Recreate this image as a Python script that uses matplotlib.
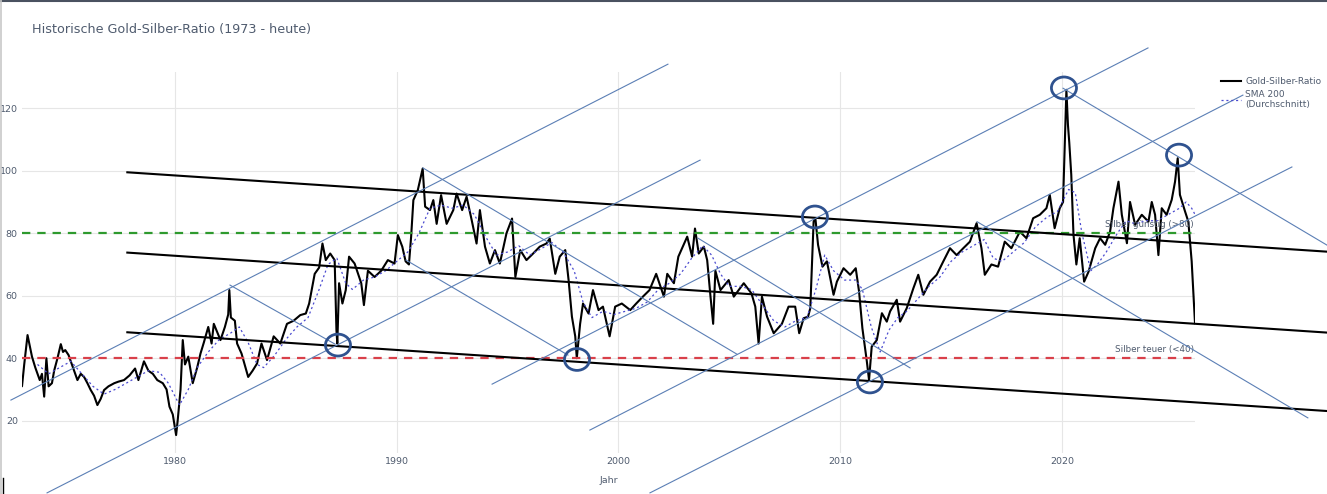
import matplotlib
matplotlib.use("Agg")
import matplotlib.pyplot as plt
from matplotlib.patches import Ellipse
from matplotlib.lines import Line2D

plt.rcParams['font.family'] = ['DejaVu Sans']
plt.rcParams['lines.scale_dashes'] = False

# Gold-Silber-Ratio
ratio_year = [
    1973.00, 1973.10, 1973.20, 1973.35, 1973.45, 1973.55, 1973.70, 1973.90, 1974.00, 1974.10,
    1974.20, 1974.30, 1974.45, 1974.55, 1974.70, 1974.85, 1974.95, 1975.05, 1975.20, 1975.35,
    1975.50, 1975.60, 1975.75, 1975.90, 1976.05, 1976.20, 1976.35, 1976.50, 1976.65, 1976.80,
    1977.00, 1977.26, 1977.45, 1977.70, 1977.95, 1978.20, 1978.35, 1978.60, 1978.80, 1979.00,
    1979.20, 1979.45, 1979.62, 1979.75, 1979.90, 1980.05, 1980.12, 1980.25, 1980.35, 1980.45,
    1980.60, 1980.80, 1981.00, 1981.15, 1981.30, 1981.50, 1981.65, 1981.75, 1982.05, 1982.25,
    1982.40, 1982.45, 1982.52, 1982.70, 1982.80, 1983.00, 1983.30, 1983.50, 1983.70, 1983.90,
    1984.15, 1984.45, 1984.75, 1985.05, 1985.35, 1985.65, 1985.90, 1986.05, 1986.30, 1986.50,
    1986.65, 1986.80, 1987.00, 1987.20, 1987.28, 1987.32, 1987.40, 1987.55, 1987.70, 1987.85,
    1988.10, 1988.40, 1988.52, 1988.70, 1989.00, 1989.30, 1989.60, 1989.90, 1990.05, 1990.25,
    1990.40, 1990.55, 1990.65, 1990.75, 1990.95, 1991.17, 1991.28, 1991.50, 1991.65, 1991.80,
    1992.00, 1992.25, 1992.55, 1992.70, 1992.95, 1993.15, 1993.38, 1993.60, 1993.75, 1993.98,
    1994.20, 1994.43, 1994.65, 1994.95, 1995.20, 1995.35, 1995.57, 1995.85, 1996.15, 1996.45,
    1996.75, 1996.90, 1997.15, 1997.35, 1997.60, 1997.75, 1997.90, 1998.05, 1998.12, 1998.27,
    1998.40, 1998.65, 1998.85, 1999.10, 1999.30, 1999.60, 1999.85, 2000.15, 2000.53, 2000.80,
    2001.10, 2001.40, 2001.70, 2002.05, 2002.20, 2002.50, 2002.70, 2003.10, 2003.32, 2003.45,
    2003.62, 2003.85, 2004.00, 2004.15, 2004.27, 2004.37, 2004.60, 2004.97, 2005.20, 2005.65,
    2006.00, 2006.17, 2006.32, 2006.47, 2006.70, 2007.00, 2007.37, 2007.67, 2007.97, 2008.15,
    2008.35, 2008.55, 2008.65, 2008.80, 2008.88, 2009.00, 2009.20, 2009.40, 2009.70, 2009.85,
    2010.15, 2010.45, 2010.70, 2010.85, 2011.00, 2011.20, 2011.30, 2011.42, 2011.65, 2011.88,
    2012.10, 2012.25, 2012.55, 2012.70, 2013.00, 2013.30, 2013.52, 2013.75, 2014.05, 2014.35,
    2014.65, 2014.95, 2015.25, 2015.55, 2015.85, 2016.15, 2016.37, 2016.52, 2016.82, 2017.12,
    2017.42, 2017.72, 2018.10, 2018.40, 2018.70, 2019.00, 2019.30, 2019.45, 2019.67, 2019.90,
    2020.05, 2020.13, 2020.20, 2020.27, 2020.33, 2020.42, 2020.52, 2020.65, 2020.80, 2021.00,
    2021.20, 2021.50, 2021.72, 2021.95, 2022.17, 2022.32, 2022.55, 2022.70, 2022.93, 2023.07,
    2023.30, 2023.60, 2023.90, 2024.05, 2024.20, 2024.35, 2024.50, 2024.72, 2024.95, 2025.10,
    2025.22, 2025.32, 2025.55, 2025.70, 2025.85, 2026.00,
]
ratio_value = [
    32, 31, 38, 47.4, 44, 40.5, 37, 33, 35, 27.7,
    40, 31, 32, 36, 40, 44.5, 42, 42.6, 41, 38,
    35, 33, 35, 34, 32, 29.8, 28, 25, 27, 29.8,
    31, 32, 32.5, 33, 34.5, 36.7, 33, 39, 36, 35,
    33, 32, 30, 24.5, 22, 15.4, 20, 30, 45.8, 38,
    40.5, 32, 37, 41.5, 45, 50, 44.7, 51, 45.8, 50,
    54, 61.8, 53, 52, 44.7, 41.5, 34, 36, 38.3, 44.7,
    39.4, 47, 44.7, 51, 52, 53.8, 54.3, 57.5, 67, 69,
    76.7, 71.4, 73.5, 71.4, 49, 44.7, 64, 57.5, 61.8, 72.5,
    70.3, 64, 57, 68, 66, 68, 71.4, 70.3, 79.4, 75.7,
    71, 70, 79, 90.6, 93.8, 100.7, 88.5, 87.4, 90.6, 83,
    92.2, 83, 87.4, 92.7, 87.4, 91.7, 84.2, 76.7, 87.4, 75.7,
    70.3, 74.6, 70.3, 80, 84.7, 66, 74.6, 71.4, 73.5, 75.7,
    76.7, 78.3, 67, 72.5, 74.6, 65, 53.3, 47, 40, 51,
    57.5, 54.3, 61.8, 55.4, 56.5, 47, 56.5, 57.5, 55.4, 57.5,
    59.7, 61.8, 67, 59.7, 67, 64, 72.5, 78.9, 72.5, 81.5,
    73.5, 75.7, 71.4, 59.7, 51, 68, 61.8, 65, 59.7, 64,
    60.7, 56.5, 44.7, 59.7, 53.3, 48, 51, 56.5, 56.5, 48,
    52.8, 53.3, 56, 83.7, 84.8, 76.3, 69.3, 71, 60.3, 64.5,
    68.8, 66.7, 68.8, 61.3, 49.6, 39, 33, 43.7, 45.8, 54.4,
    51.7, 55, 58.7, 51.7, 56, 62.4, 66.7, 60.3, 64.5, 66.7,
    71, 75.2, 73, 75.2, 77.3, 83.2, 75.2, 66.7, 70, 69.3,
    77.3, 75.2, 80.5, 78.4, 84.8, 85.9, 88, 92.3, 81.6, 88,
    90, 109, 125.9, 114.7, 109, 98.7, 79.5, 70, 78.4, 64.5,
    67.7, 75.2, 78.4, 76.3, 80.5, 88, 96.5, 85.9, 76.8, 90,
    82.7, 85.9, 83.7, 90, 85.9, 73, 88, 85.9, 90.7, 96.5,
    104, 92.3, 87, 83.7, 71, 51.2,
]

# SMA 200
sma_year = [
    1973.8, 1974.3, 1974.8, 1975.3, 1975.8, 1976.3, 1976.8, 1977.3, 1977.8, 1978.3,
    1978.8, 1979.3, 1979.7, 1980.2, 1980.6, 1981.0, 1981.5, 1982.0, 1982.5, 1982.9,
    1983.3, 1983.7, 1984.0, 1984.5, 1985.0, 1985.5, 1986.0, 1986.5, 1986.9, 1987.3,
    1987.7, 1988.0, 1988.5, 1989.0, 1989.5, 1990.0, 1990.5, 1991.0, 1991.5, 1992.0,
    1992.5, 1993.0, 1993.5, 1994.0, 1994.5, 1995.0, 1995.5, 1996.0, 1996.5, 1997.0,
    1997.5, 1998.0, 1998.4, 1998.8, 1999.3, 1999.8, 2000.3, 2000.8, 2001.3, 2001.8,
    2002.3, 2002.8, 2003.3, 2003.8, 2004.2, 2004.6, 2005.0, 2005.5, 2006.0, 2006.5,
    2007.0, 2007.5, 2008.0, 2008.5, 2008.9, 2009.3, 2009.7, 2010.2, 2010.7, 2011.0,
    2011.4, 2011.8, 2012.2, 2012.6, 2013.0, 2013.5, 2014.0, 2014.5, 2015.0, 2015.5,
    2016.0, 2016.5, 2016.9, 2017.3, 2017.8, 2018.3, 2018.8, 2019.3, 2019.8, 2020.3,
    2020.6, 2020.9, 2021.3, 2021.6, 2022.0, 2022.5, 2022.9, 2023.3, 2023.8, 2024.3,
    2024.8, 2025.3, 2025.6, 2025.85, 2026.0,
]
sma_value = [
    38, 35, 37, 39, 35, 31, 28.5, 30, 32, 34,
    36, 35.5, 32, 25, 30, 37, 42, 46, 48, 50,
    45, 38, 37, 41, 46, 50, 53, 62, 70, 72,
    64, 62, 65, 66, 68, 71, 74, 80, 88, 89,
    88, 89, 86, 79, 73, 74, 76, 73, 75, 77,
    74, 68, 58, 53, 55, 54, 55, 56, 58, 62,
    64, 67, 72, 76, 73, 67, 63, 63, 62, 57,
    52, 50, 52, 53, 62, 73, 68, 65, 65, 62,
    50, 42, 49, 53, 55, 59, 63, 66, 71, 74,
    76, 78, 72, 71, 74, 77, 82, 85, 87, 94,
    93, 80, 68, 70, 74, 80, 84, 83, 84, 84,
    86, 88, 90, 88, 86,
]

# Einzeichnungen (Jahr, Ratio): schwarze Trendkanaele
black_x = [(1977.85, 2031.95), (1977.85, 2031.95), (1977.85, 2031.95)]
black_y = [(99.5, 74.1), (73.8, 48.2), (48.3, 23.1)]
# blaue Hilfslinien
blue_x = [(1972.6, 2002.23), (1974.23, 2003.68), (1994.30, 2023.88), (1998.71, 2028.16),
          (2001.42, 2030.37), (1982.48, 1987.22), (1991.18, 2005.34), (1990.42, 1997.72),
          (2003.59, 2013.15), (2016.17, 2031.09), (2020.05, 2031.95)]
blue_y = [(26.6, 134.1), (-3.1, 103.4), (31.7, 139.3), (17.0, 124.2),
          (-3.1, 101.2), (63.4, 44.5), (100.9, 41.3), (71.4, 41.0),
          (78.4, 36.9), (83.7, 20.9), (126.4, 76.2)]
# Kreise an Extrempunkten
circle_x = [1987.35, 1998.13, 2008.86, 2011.34, 2020.09, 2025.28]
circle_y = [44.2, 39.6, 85.2, 32.4, 126.5, 105.0]

W, H = 1327, 494
fig = plt.figure(figsize=(W / 100, H / 100), dpi=100)
ax = fig.add_axes([22 / W, 41 / H, 1173 / W, 381 / H])

txt = '#4f5b6e'
ax.plot(ratio_year, ratio_value, color='black', lw=1.5, zorder=2, label='Gold-Silber-Ratio')
ax.plot(sma_year, sma_value, color='#4b4bd0', lw=0.9, dashes=(1.5, 2), zorder=2,
        label='SMA 200\n(Durchschnitt)')

ax.axhline(80, color='#2e9a2e', lw=1.6, dashes=(6, 5), zorder=3)
ax.axhline(40, color='#d9404a', lw=1.6, dashes=(6, 5), zorder=3)
ax.text(2025.95, 81.2, 'Silber günstig (>80)', ha='right', va='bottom', fontsize=6.3, color=txt, zorder=4)
ax.text(2025.95, 41.2, 'Silber teuer (<40)', ha='right', va='bottom', fontsize=6.3, color=txt, zorder=4)

for xs, ys in zip(black_x, black_y):
    ax.plot(xs, ys, color='black', lw=1.5, zorder=5, clip_on=False)
for xs, ys in zip(blue_x, blue_y):
    ax.plot(xs, ys, color='#5b7fb5', lw=0.8, zorder=5, clip_on=False)
for cx, cy in zip(circle_x, circle_y):
    ax.add_patch(Ellipse((cx, cy), 1.13, 7.0, fill=False, ec='#2f528f', lw=2.0,
                         zorder=6, clip_on=False))

ax.set_xlim(1973.1, 2026.0)
ax.set_ylim(9.66, 131.6)
ax.set_xticks([1980, 1990, 2000, 2010, 2020])
ax.set_yticks([20, 40, 60, 80, 100, 120])
ax.tick_params(length=0, labelsize=6.8, labelcolor=txt, pad=3)
ax.grid(color='#e6e6e6', lw=0.8)
ax.set_axisbelow(True)
for s in ax.spines.values():
    s.set_visible(False)
ax.set_xlabel('Jahr', fontsize=6.8, color=txt, labelpad=7)

fig.text(32 / W, 1 - 30 / H, 'Historische Gold-Silber-Ratio (1973 - heute)',
         fontsize=9.2, color=txt, va='center', ha='left')

ax.legend(loc='upper left', bbox_to_anchor=(1221 / W, 1 - 77 / H), bbox_transform=fig.transFigure,
          frameon=False, fontsize=6.5, labelcolor=txt, handlelength=2.2, handletextpad=0.5,
          borderaxespad=0, borderpad=0, labelspacing=0.45)

# Rahmen des Screenshots
fig.add_artist(Line2D([0, 1], [1 - 1 / H, 1 - 1 / H], transform=fig.transFigure, color='#4a5260', lw=1.5))
fig.add_artist(Line2D([1 / W, 1 / W], [0, 1], transform=fig.transFigure, color='#c8c8c8', lw=1.2))
fig.add_artist(Line2D([3 / W, 3 / W], [0, 16 / H], transform=fig.transFigure, color='black', lw=1))

fig.savefig('out.png', dpi=100)
